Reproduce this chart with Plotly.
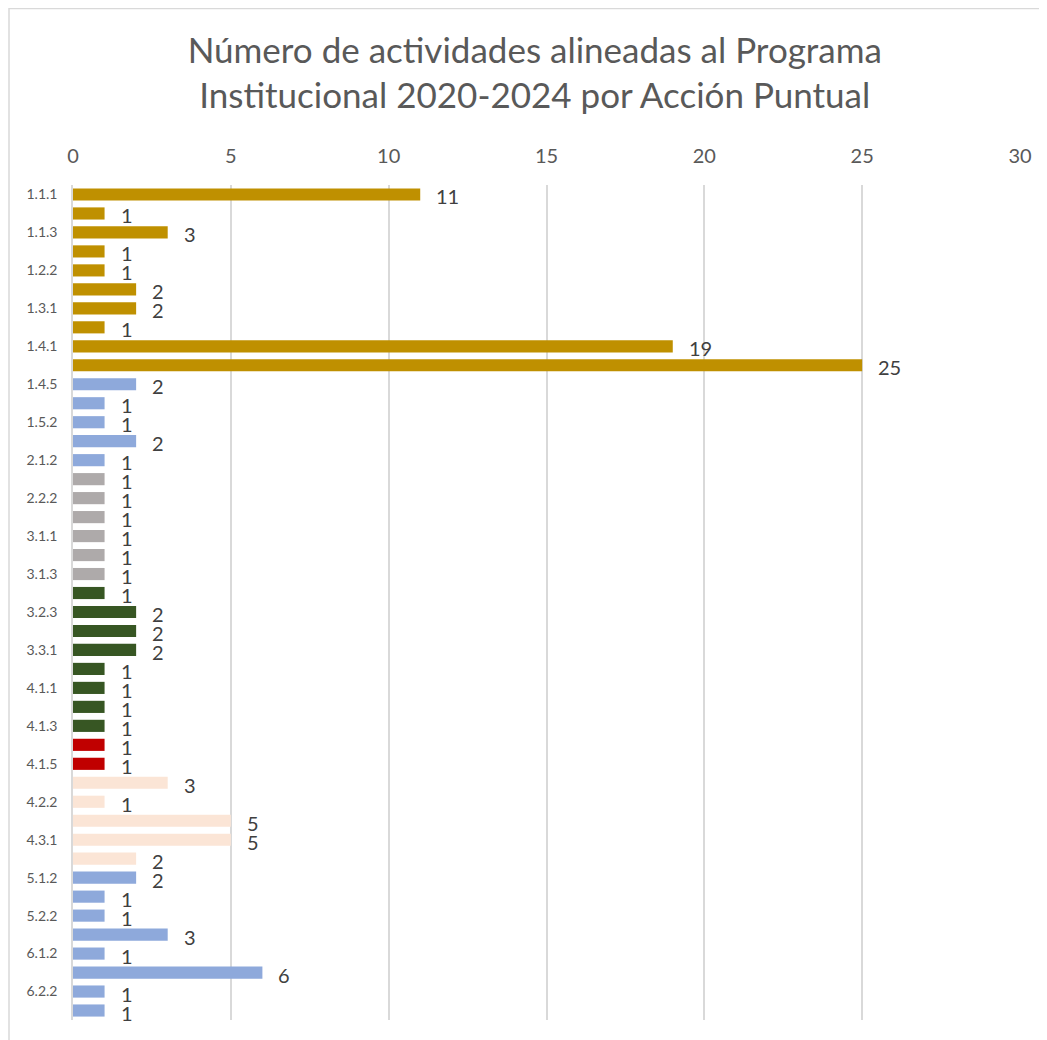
import plotly.graph_objects as go

categories = ["1.1.1", "1.1.2", "1.1.3", "1.2.1", "1.2.2", "1.2.3", "1.3.1", "1.3.2",
              "1.4.1", "1.4.2", "1.4.5", "1.5.1", "1.5.2", "2.1.1", "2.1.2", "2.2.1",
              "2.2.2", "2.2.3", "3.1.1", "3.1.2", "3.1.3", "3.2.1", "3.2.3", "3.2.4",
              "3.3.1", "3.3.2", "4.1.1", "4.1.2", "4.1.3", "4.1.4", "4.1.5", "4.2.1",
              "4.2.2", "4.2.3", "4.3.1", "4.3.2", "5.1.2", "5.2.1", "5.2.2", "6.1.1",
              "6.1.2", "6.2.1", "6.2.2", "6.2.3"]
values = [11, 1, 3, 1, 1, 2, 2, 1, 19, 25, 2, 1, 1, 2, 1, 1, 1, 1, 1, 1, 1, 1, 2, 2,
          2, 1, 1, 1, 1, 1, 1, 3, 1, 5, 5, 2, 2, 1, 1, 3, 1, 6, 1, 1]
groups = (["gold"] * 10 + ["blue"] * 5 + ["grey"] * 6 + ["green"] * 8 + ["red"] * 2
          + ["peach"] * 5 + ["blue"] * 8)
shown_ticks = categories[::2]
x_ticks = [0, 5, 10, 15, 20, 25, 30]
title_text = "Número de actividades alineadas al Programa<br>Institucional 2020-2024 por Acción Puntual"

palette = {"gold": "#BF9000", "blue": "#8EA9DB", "grey": "#AEAAAA",
           "green": "#375623", "red": "#C00000", "peach": "#FBE5D6"}

FONT = "Lato, 'Open Sans', sans-serif"

W, H = 1039, 1032
ML, MR, MT, MB = 65, 27, 177, 20
PW, PH = W - ML - MR, H - MT - MB

fig = go.Figure()
fig.add_trace(go.Bar(
    x=values, y=categories, orientation="h",
    marker=dict(color=[palette[g] for g in groups], line=dict(width=0)),
    showlegend=False, hoverinfo="x+y",
))

for c, v in zip(categories, values):
    fig.add_annotation(x=v, y=c, text=str(v), showarrow=False, xanchor="left",
                       xshift=14, yshift=-2,
                       font=dict(family=FONT, size=20, color="#404040"))

fig.update_layout(
    width=W, height=H,
    margin=dict(l=ML, r=MR, t=MT, b=MB),
    paper_bgcolor="white", plot_bgcolor="white",
    bargap=0.36,
    title=dict(text=title_text, x=0.507, xanchor="center", y=0.947, yanchor="top",
               font=dict(family=FONT, size=35, color="#595959")),
    xaxis=dict(side="top", range=[0, 30], tickvals=x_ticks, showgrid=True,
               gridcolor="#D9D9D9", gridwidth=1.5, zeroline=False, showline=False,
               automargin=False,
               tickfont=dict(family=FONT, size=20, color="#595959"),
               ticks="outside", ticklen=13, tickcolor="rgba(0,0,0,0)"),
    yaxis=dict(type="category", categoryorder="array", categoryarray=categories,
               range=[len(categories) - 0.5, -0.5], tickmode="array",
               tickvals=shown_ticks,
               ticktext=shown_ticks, showgrid=False, showline=True, automargin=False,
               linecolor="#D9D9D9", linewidth=1.5, ticks="outside", ticklen=11,
               tickcolor="rgba(0,0,0,0)",
               tickfont=dict(family=FONT, size=14, color="#595959")),
    shapes=[dict(type="rect", xref="paper", yref="paper",
                 x0=-(ML - 1) / PW, x1=1.1, y0=-0.1, y1=1 + (MT - 0.5) / PH,
                 line=dict(color="#D9D9D9", width=1.5), layer="below")],
)

fig.write_html("out.html")
